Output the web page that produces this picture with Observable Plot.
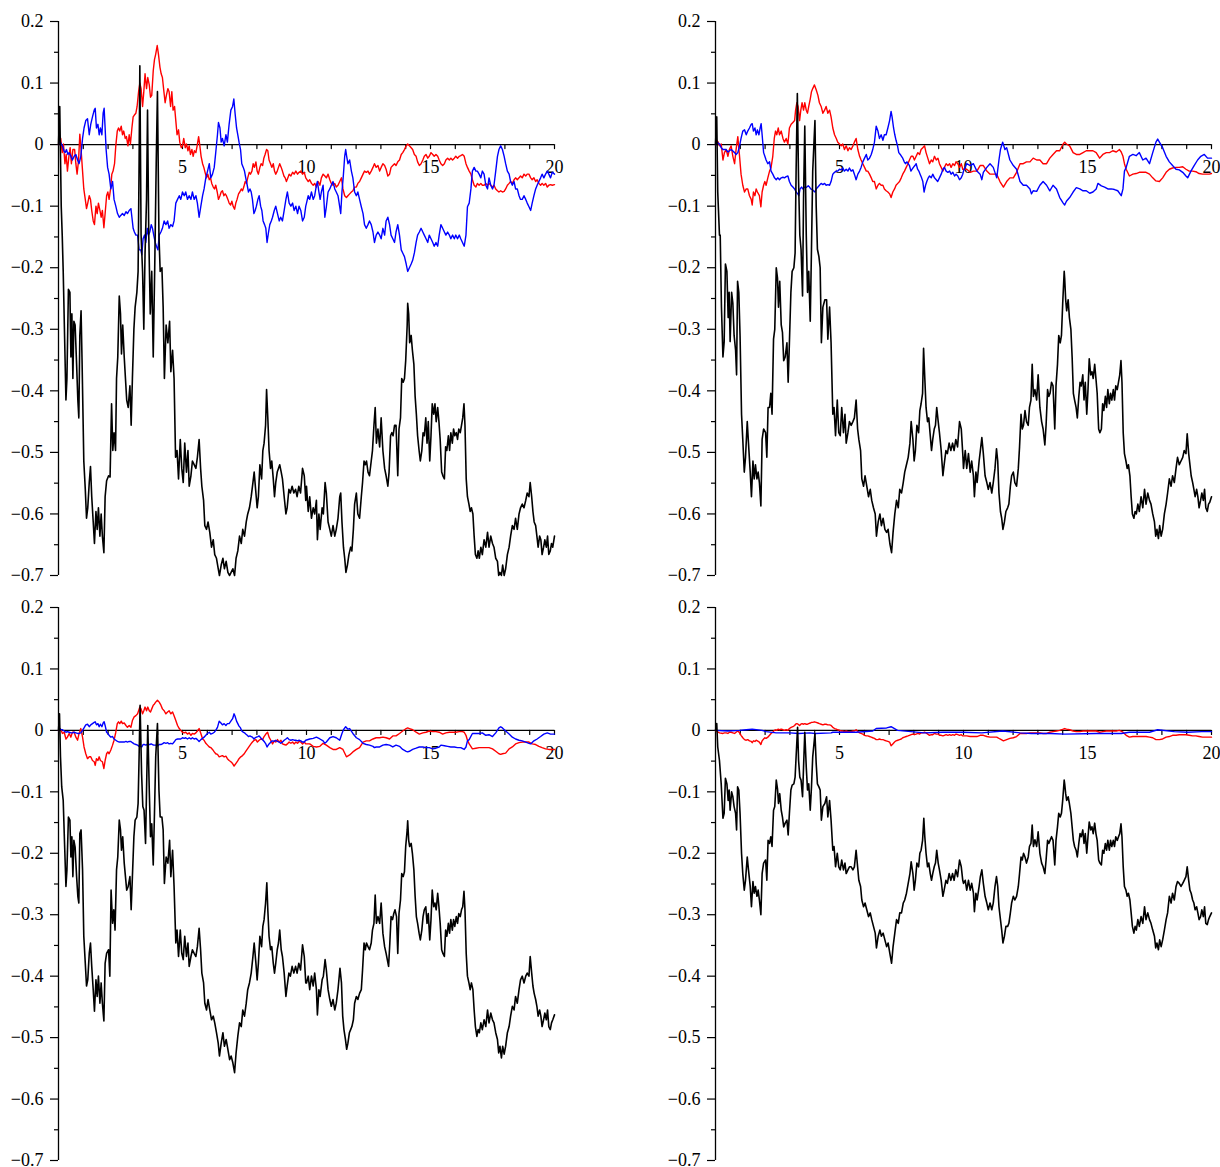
<!DOCTYPE html>
<html><head><meta charset="utf-8">
<script src="https://cdn.jsdelivr.net/npm/d3@7"></script>
<script src="https://cdn.jsdelivr.net/npm/@observablehq/plot@0.6"></script>
<style>
body{margin:0;background:#fff;}
#wrap{position:relative;width:1220px;height:1167px;overflow:hidden;}
#wrap svg{position:absolute;}
</style></head><body><div id="wrap"></div>
<script>
const xLabelTicks = [5, 10, 15, 20];
const xMinorTicks = [1,2,3,4,5,6,7,8,9,10,11,12,13,14,15,16,17,18,19,20];
const yMajorTicks = [0.2, 0.1, 0, -0.1, -0.2, -0.3, -0.4, -0.5, -0.6, -0.7];
const yMinorTicks = [0.15, 0.05, -0.05, -0.15, -0.25, -0.35, -0.45, -0.55, -0.65];

// ---------- top-left panel ----------
const tlBlack = [[0,0],[0.05,0.062],[0.11,-0.10],[0.15,-0.147],[0.19,-0.206],[0.30,-0.415],[0.34,-0.38],[0.40,-0.235],[0.46,-0.24],[0.50,-0.345],[0.54,-0.275],[0.58,-0.38],[0.62,-0.287],[0.67,-0.293],[0.73,-0.357],[0.78,-0.415],[0.82,-0.444],[0.86,-0.31],[0.91,-0.27],[0.95,-0.351],[1.02,-0.514],[1.08,-0.56],[1.13,-0.607],[1.18,-0.59],[1.24,-0.549],[1.29,-0.523],[1.34,-0.572],[1.40,-0.613],[1.45,-0.648],[1.51,-0.596],[1.56,-0.625],[1.61,-0.59],[1.67,-0.636],[1.72,-0.60],[1.77,-0.636],[1.83,-0.663],[1.88,-0.572],[1.94,-0.546],[2.02,-0.538],[2.08,-0.54],[2.14,-0.421],[2.19,-0.497],[2.24,-0.468],[2.30,-0.497],[2.34,-0.38],[2.39,-0.345],[2.45,-0.246],[2.50,-0.275],[2.54,-0.34],[2.59,-0.293],[2.65,-0.345],[2.70,-0.38],[2.75,-0.415],[2.81,-0.427],[2.88,-0.392],[2.93,-0.456],[2.98,-0.38],[3.04,-0.30],[3.09,-0.264],[3.16,-0.24],[3.21,-0.206],[3.25,-0.03],[3.28,0.128],[3.33,-0.147],[3.39,-0.206],[3.44,-0.30],[3.49,-0.176],[3.55,-0.089],[3.59,0.056],[3.64,-0.147],[3.70,-0.275],[3.76,-0.206],[3.82,-0.345],[3.88,-0.20],[3.94,-0.031],[3.99,0.086],[4.05,-0.147],[4.10,-0.206],[4.17,-0.20],[4.22,-0.264],[4.27,-0.38],[4.34,-0.293],[4.41,-0.322],[4.48,-0.287],[4.53,-0.369],[4.60,-0.334],[4.66,-0.38],[4.72,-0.508],[4.78,-0.497],[4.84,-0.543],[4.91,-0.479],[4.97,-0.526],[5.03,-0.549],[5.09,-0.485],[5.16,-0.532],[5.22,-0.497],[5.27,-0.555],[5.34,-0.538],[5.40,-0.514],[5.47,-0.52],[5.54,-0.526],[5.60,-0.508],[5.67,-0.479],[5.73,-0.526],[5.78,-0.555],[5.85,-0.578],[5.90,-0.619],[5.97,-0.625],[6.03,-0.613],[6.10,-0.63],[6.17,-0.654],[6.24,-0.642],[6.30,-0.666],[6.37,-0.672],[6.44,-0.689],[6.49,-0.70],[6.56,-0.683],[6.63,-0.672],[6.69,-0.689],[6.76,-0.677],[6.83,-0.695],[6.90,-0.70],[6.96,-0.695],[7.03,-0.689],[7.10,-0.70],[7.16,-0.672],[7.23,-0.66],[7.30,-0.636],[7.37,-0.648],[7.43,-0.625],[7.50,-0.636],[7.57,-0.613],[7.63,-0.60],[7.70,-0.59],[7.77,-0.572],[7.84,-0.549],[7.89,-0.532],[7.96,-0.566],[8.01,-0.59],[8.06,-0.572],[8.12,-0.52],[8.19,-0.543],[8.24,-0.497],[8.29,-0.485],[8.35,-0.456],[8.39,-0.398],[8.44,-0.444],[8.49,-0.497],[8.55,-0.526],[8.60,-0.514],[8.66,-0.543],[8.71,-0.572],[8.76,-0.549],[8.82,-0.532],[8.87,-0.526],[8.92,-0.52],[8.98,-0.532],[9.03,-0.543],[9.10,-0.572],[9.17,-0.60],[9.22,-0.59],[9.29,-0.56],[9.35,-0.566],[9.42,-0.555],[9.49,-0.566],[9.56,-0.56],[9.62,-0.572],[9.69,-0.555],[9.76,-0.566],[9.84,-0.526],[9.91,-0.538],[9.97,-0.578],[10.0,-0.555],[10.07,-0.596],[10.13,-0.572],[10.20,-0.607],[10.27,-0.59],[10.33,-0.60],[10.40,-0.578],[10.44,-0.642],[10.50,-0.60],[10.55,-0.625],[10.63,-0.59],[10.68,-0.60],[10.75,-0.549],[10.80,-0.566],[10.87,-0.613],[10.94,-0.625],[11.00,-0.636],[11.07,-0.619],[11.14,-0.636],[11.20,-0.625],[11.27,-0.607],[11.34,-0.572],[11.38,-0.566],[11.43,-0.613],[11.49,-0.654],[11.54,-0.672],[11.59,-0.695],[11.65,-0.683],[11.71,-0.666],[11.78,-0.654],[11.83,-0.66],[11.89,-0.625],[11.94,-0.584],[12.01,-0.566],[12.07,-0.60],[12.14,-0.607],[12.21,-0.572],[12.26,-0.549],[12.32,-0.514],[12.37,-0.52],[12.42,-0.514],[12.48,-0.532],[12.54,-0.538],[12.61,-0.514],[12.66,-0.497],[12.72,-0.456],[12.77,-0.427],[12.82,-0.485],[12.88,-0.462],[12.95,-0.491],[13.01,-0.444],[13.08,-0.497],[13.15,-0.526],[13.21,-0.538],[13.28,-0.555],[13.33,-0.532],[13.39,-0.473],[13.44,-0.468],[13.49,-0.473],[13.55,-0.456],[13.61,-0.456],[13.68,-0.538],[13.73,-0.462],[13.79,-0.444],[13.84,-0.38],[13.90,-0.386],[13.95,-0.38],[14.00,-0.351],[14.06,-0.293],[14.08,-0.258],[14.12,-0.275],[14.16,-0.322],[14.22,-0.31],[14.27,-0.334],[14.33,-0.357],[14.38,-0.409],[14.43,-0.438],[14.48,-0.473],[14.54,-0.497],[14.59,-0.514],[14.65,-0.497],[14.70,-0.468],[14.75,-0.473],[14.81,-0.444],[14.86,-0.485],[14.91,-0.45],[14.97,-0.514],[15.02,-0.473],[15.07,-0.421],[15.13,-0.438],[15.18,-0.421],[15.23,-0.45],[15.29,-0.427],[15.34,-0.45],[15.39,-0.479],[15.45,-0.532],[15.50,-0.538],[15.56,-0.543],[15.61,-0.491],[15.66,-0.497],[15.72,-0.473],[15.77,-0.497],[15.82,-0.468],[15.88,-0.485],[15.93,-0.462],[15.98,-0.473],[16.04,-0.468],[16.09,-0.479],[16.14,-0.462],[16.20,-0.468],[16.25,-0.456],[16.30,-0.444],[16.35,-0.421],[16.39,-0.456],[16.44,-0.543],[16.49,-0.572],[16.55,-0.584],[16.60,-0.596],[16.65,-0.59],[16.71,-0.60],[16.76,-0.636],[16.81,-0.666],[16.87,-0.672],[16.92,-0.66],[16.97,-0.672],[17.03,-0.654],[17.09,-0.666],[17.16,-0.642],[17.23,-0.654],[17.30,-0.63],[17.36,-0.654],[17.43,-0.636],[17.50,-0.648],[17.56,-0.654],[17.63,-0.672],[17.70,-0.677],[17.75,-0.70],[17.80,-0.695],[17.86,-0.70],[17.91,-0.683],[17.97,-0.70],[18.03,-0.689],[18.10,-0.666],[18.17,-0.654],[18.23,-0.636],[18.30,-0.619],[18.37,-0.625],[18.43,-0.607],[18.50,-0.625],[18.57,-0.60],[18.63,-0.59],[18.70,-0.584],[18.77,-0.59],[18.84,-0.578],[18.90,-0.566],[18.97,-0.572],[19.02,-0.549],[19.08,-0.572],[19.13,-0.596],[19.18,-0.613],[19.24,-0.619],[19.29,-0.636],[19.34,-0.654],[19.40,-0.636],[19.45,-0.642],[19.50,-0.666],[19.56,-0.654],[19.61,-0.642],[19.67,-0.654],[19.72,-0.636],[19.77,-0.666],[19.83,-0.66],[19.88,-0.648],[19.93,-0.654],[20.0,-0.636]];

const tlRed = [[0,0],[0.04,0.013],[0.09,0.01],[0.15,-0.013],[0.2,0.001],[0.26,-0.031],[0.31,-0.016],[0.36,-0.043],[0.42,-0.019],[0.47,-0.005],[0.52,-0.031],[0.58,-0.008],[0.65,-0.008],[0.7,-0.031],[0.75,-0.048],[0.81,-0.025],[0.86,0.017],[0.91,-0.008],[0.97,-0.043],[1.02,-0.072],[1.08,-0.089],[1.13,-0.104],[1.18,-0.095],[1.24,-0.083],[1.29,-0.089],[1.34,-0.107],[1.4,-0.124],[1.45,-0.13],[1.51,-0.1],[1.56,-0.112],[1.61,-0.095],[1.67,-0.107],[1.72,-0.118],[1.77,-0.107],[1.83,-0.135],[1.88,-0.112],[1.94,-0.083],[1.99,-0.077],[2.04,-0.089],[2.1,-0.072],[2.15,-0.048],[2.2,-0.043],[2.26,-0.031],[2.31,-0.002],[2.37,0.022],[2.42,0.027],[2.47,0.022],[2.53,0.03],[2.58,0.016],[2.63,0.022],[2.69,0.01],[2.74,0.013],[2.8,-0.002],[2.85,0.016],[2.9,0.001],[2.96,0.027],[3.01,0.045],[3.06,0.048],[3.12,0.051],[3.17,0.062],[3.23,0.086],[3.28,0.1],[3.33,0.091],[3.39,0.062],[3.44,0.086],[3.49,0.115],[3.55,0.091],[3.6,0.109],[3.66,0.097],[3.71,0.077],[3.76,0.08],[3.82,0.12],[3.87,0.138],[3.92,0.147],[3.98,0.161],[4.03,0.147],[4.09,0.126],[4.14,0.115],[4.19,0.109],[4.25,0.086],[4.3,0.068],[4.35,0.08],[4.41,0.091],[4.46,0.086],[4.52,0.062],[4.57,0.086],[4.62,0.056],[4.68,0.062],[4.73,0.039],[4.78,0.016],[4.84,0.024],[4.89,0.004],[4.95,-0.005],[5.0,-0.002],[5.05,0.01],[5.11,-0.005],[5.16,0.001],[5.22,-0.01],[5.27,-0.002],[5.32,-0.016],[5.38,-0.008],[5.43,-0.019],[5.48,-0.01],[5.54,-0.013],[5.59,-0.002],[5.65,0.013],[5.7,-0.002],[5.75,-0.019],[5.81,-0.031],[5.86,-0.037],[5.91,-0.045],[5.97,-0.054],[6.02,-0.048],[6.08,-0.057],[6.13,-0.054],[6.18,-0.063],[6.24,-0.069],[6.29,-0.072],[6.34,-0.066],[6.4,-0.077],[6.45,-0.089],[6.51,-0.083],[6.56,-0.077],[6.61,-0.075],[6.67,-0.083],[6.72,-0.08],[6.77,-0.083],[6.83,-0.089],[6.88,-0.095],[6.94,-0.098],[6.99,-0.092],[7.04,-0.1],[7.1,-0.105],[7.15,-0.095],[7.2,-0.089],[7.26,-0.08],[7.31,-0.077],[7.37,-0.072],[7.42,-0.075],[7.47,-0.069],[7.53,-0.06],[7.58,-0.063],[7.63,-0.054],[7.69,-0.045],[7.74,-0.048],[7.8,-0.043],[7.85,-0.031],[7.9,-0.037],[7.96,-0.028],[8.01,-0.043],[8.06,-0.048],[8.12,-0.037],[8.17,-0.031],[8.23,-0.034],[8.28,-0.022],[8.33,-0.016],[8.39,-0.008],[8.44,-0.01],[8.49,-0.025],[8.55,-0.031],[8.6,-0.037],[8.66,-0.031],[8.71,-0.043],[8.76,-0.048],[8.82,-0.043],[8.87,-0.037],[8.92,-0.031],[8.98,-0.037],[9.03,-0.043],[9.09,-0.051],[9.14,-0.054],[9.19,-0.06],[9.25,-0.054],[9.3,-0.048],[9.37,-0.051],[9.44,-0.045],[9.5,-0.048],[9.57,-0.043],[9.64,-0.048],[9.7,-0.045],[9.77,-0.043],[9.84,-0.048],[9.91,-0.045],[9.97,-0.054],[10.07,-0.06],[10.13,-0.057],[10.2,-0.063],[10.27,-0.066],[10.33,-0.063],[10.4,-0.069],[10.47,-0.06],[10.54,-0.066],[10.6,-0.054],[10.67,-0.048],[10.74,-0.051],[10.8,-0.054],[10.87,-0.048],[10.94,-0.057],[11.0,-0.063],[11.07,-0.066],[11.14,-0.063],[11.2,-0.069],[11.27,-0.066],[11.34,-0.06],[11.41,-0.054],[11.47,-0.072],[11.54,-0.083],[11.61,-0.086],[11.67,-0.083],[11.74,-0.08],[11.81,-0.077],[11.87,-0.075],[11.94,-0.069],[12.01,-0.069],[12.07,-0.063],[12.14,-0.06],[12.21,-0.054],[12.28,-0.048],[12.34,-0.043],[12.41,-0.045],[12.48,-0.043],[12.54,-0.048],[12.61,-0.043],[12.68,-0.037],[12.74,-0.031],[12.81,-0.037],[12.88,-0.034],[12.95,-0.043],[13.01,-0.037],[13.08,-0.031],[13.15,-0.034],[13.21,-0.04],[13.28,-0.051],[13.35,-0.048],[13.41,-0.037],[13.48,-0.034],[13.55,-0.031],[13.61,-0.034],[13.68,-0.028],[13.75,-0.025],[13.82,-0.016],[13.88,-0.013],[13.95,-0.008],[14.02,-0.002],[14.08,0.001],[14.15,-0.002],[14.22,-0.005],[14.28,-0.008],[14.35,-0.016],[14.42,-0.019],[14.48,-0.028],[14.55,-0.034],[14.62,-0.031],[14.69,-0.025],[14.75,-0.019],[14.82,-0.016],[14.89,-0.022],[14.95,-0.019],[15.02,-0.013],[15.09,-0.016],[15.15,-0.019],[15.22,-0.016],[15.29,-0.019],[15.35,-0.025],[15.42,-0.031],[15.49,-0.034],[15.56,-0.031],[15.62,-0.025],[15.69,-0.022],[15.76,-0.025],[15.82,-0.022],[15.89,-0.025],[15.96,-0.022],[16.02,-0.019],[16.09,-0.022],[16.16,-0.019],[16.22,-0.018],[16.29,-0.016],[16.36,-0.019],[16.43,-0.031],[16.49,-0.037],[16.56,-0.043],[16.63,-0.048],[16.69,-0.057],[16.76,-0.066],[16.83,-0.069],[16.89,-0.063],[16.96,-0.066],[17.03,-0.063],[17.09,-0.066],[17.16,-0.066],[17.23,-0.063],[17.3,-0.066],[17.36,-0.063],[17.43,-0.066],[17.5,-0.069],[17.56,-0.066],[17.63,-0.072],[17.7,-0.075],[17.76,-0.077],[17.83,-0.075],[17.9,-0.077],[17.97,-0.076],[18.03,-0.072],[18.1,-0.066],[18.17,-0.063],[18.23,-0.06],[18.3,-0.063],[18.37,-0.057],[18.43,-0.054],[18.5,-0.057],[18.57,-0.054],[18.63,-0.051],[18.7,-0.054],[18.77,-0.048],[18.84,-0.051],[18.9,-0.048],[18.97,-0.048],[19.04,-0.054],[19.1,-0.057],[19.17,-0.054],[19.24,-0.06],[19.3,-0.057],[19.37,-0.063],[19.44,-0.066],[19.5,-0.063],[19.57,-0.066],[19.64,-0.063],[19.71,-0.069],[19.77,-0.066],[19.84,-0.065],[19.91,-0.066],[20,-0.065]];

const tlBlue = [[0,0],[0.05,0.007],[0.11,0.001],[0.16,-0.002],[0.22,-0.01],[0.27,-0.013],[0.32,-0.008],[0.38,-0.016],[0.43,-0.013],[0.5,-0.019],[0.56,-0.025],[0.63,-0.019],[0.7,-0.016],[0.77,-0.025],[0.83,-0.031],[0.9,-0.019],[0.97,0.01],[1.03,0.027],[1.1,0.039],[1.17,0.042],[1.24,0.016],[1.3,0.033],[1.37,0.045],[1.44,0.056],[1.48,0.059],[1.53,0.027],[1.59,0.033],[1.64,0.016],[1.69,0.027],[1.75,0.016],[1.8,0.051],[1.84,0.059],[1.88,0.027],[1.92,-0.008],[1.98,-0.037],[2.04,-0.048],[2.11,-0.072],[2.18,-0.06],[2.24,-0.089],[2.31,-0.1],[2.38,-0.112],[2.45,-0.118],[2.51,-0.115],[2.58,-0.112],[2.65,-0.115],[2.72,-0.109],[2.78,-0.112],[2.85,-0.107],[2.92,-0.104],[2.96,-0.118],[3.01,-0.136],[3.06,-0.142],[3.12,-0.147],[3.19,-0.147],[3.25,-0.171],[3.32,-0.171],[3.36,-0.179],[3.41,-0.153],[3.47,-0.147],[3.52,-0.159],[3.58,-0.136],[3.63,-0.147],[3.68,-0.142],[3.74,-0.13],[3.79,-0.136],[3.84,-0.147],[3.9,-0.159],[3.95,-0.165],[4.01,-0.171],[4.06,-0.147],[4.13,-0.142],[4.19,-0.136],[4.26,-0.124],[4.33,-0.13],[4.4,-0.124],[4.46,-0.136],[4.53,-0.13],[4.6,-0.133],[4.66,-0.124],[4.73,-0.095],[4.8,-0.089],[4.87,-0.083],[4.93,-0.089],[5.0,-0.077],[5.07,-0.083],[5.13,-0.077],[5.2,-0.089],[5.27,-0.083],[5.34,-0.089],[5.4,-0.077],[5.47,-0.089],[5.54,-0.083],[5.6,-0.095],[5.67,-0.118],[5.74,-0.1],[5.81,-0.083],[5.87,-0.072],[5.94,-0.054],[6.01,-0.043],[6.08,-0.031],[6.14,-0.054],[6.21,-0.048],[6.28,-0.037],[6.34,-0.013],[6.41,0.016],[6.45,0.036],[6.51,0.027],[6.56,0.004],[6.61,0.01],[6.68,-0.002],[6.75,0.016],[6.81,0.004],[6.88,0.033],[6.95,0.056],[7.02,0.062],[7.07,0.074],[7.12,0.051],[7.18,0.027],[7.23,0.016],[7.28,0.004],[7.34,-0.008],[7.39,-0.031],[7.45,-0.037],[7.5,-0.043],[7.55,-0.054],[7.61,-0.066],[7.66,-0.077],[7.72,-0.072],[7.77,-0.077],[7.82,-0.089],[7.88,-0.112],[7.93,-0.107],[7.98,-0.1],[8.04,-0.089],[8.09,-0.083],[8.15,-0.1],[8.2,-0.107],[8.25,-0.124],[8.31,-0.13],[8.36,-0.136],[8.41,-0.159],[8.47,-0.142],[8.52,-0.13],[8.58,-0.124],[8.63,-0.118],[8.7,-0.107],[8.76,-0.1],[8.83,-0.112],[8.9,-0.124],[8.96,-0.118],[9.03,-0.124],[9.1,-0.107],[9.17,-0.089],[9.23,-0.077],[9.3,-0.095],[9.37,-0.1],[9.44,-0.095],[9.5,-0.107],[9.57,-0.1],[9.64,-0.112],[9.7,-0.1],[9.77,-0.107],[9.84,-0.124],[9.91,-0.118],[9.97,-0.1],[10.0,-0.095],[10.07,-0.083],[10.13,-0.089],[10.2,-0.077],[10.27,-0.089],[10.33,-0.083],[10.4,-0.066],[10.44,-0.06],[10.5,-0.077],[10.55,-0.089],[10.6,-0.077],[10.67,-0.066],[10.74,-0.118],[10.8,-0.101],[10.87,-0.077],[10.94,-0.072],[11.0,-0.066],[11.07,-0.06],[11.14,-0.072],[11.2,-0.077],[11.27,-0.083],[11.34,-0.101],[11.38,-0.112],[11.43,-0.077],[11.49,-0.048],[11.54,-0.019],[11.58,-0.008],[11.62,-0.019],[11.67,-0.031],[11.74,-0.025],[11.81,-0.043],[11.87,-0.054],[11.94,-0.077],[12.01,-0.083],[12.07,-0.077],[12.14,-0.089],[12.21,-0.101],[12.28,-0.112],[12.34,-0.13],[12.41,-0.136],[12.48,-0.13],[12.54,-0.124],[12.61,-0.13],[12.68,-0.142],[12.74,-0.159],[12.81,-0.147],[12.88,-0.142],[12.95,-0.147],[13.01,-0.153],[13.08,-0.136],[13.15,-0.147],[13.21,-0.124],[13.28,-0.118],[13.35,-0.13],[13.41,-0.147],[13.48,-0.153],[13.55,-0.159],[13.61,-0.142],[13.68,-0.13],[13.75,-0.147],[13.82,-0.171],[13.88,-0.176],[13.95,-0.182],[14.02,-0.194],[14.08,-0.206],[14.15,-0.2],[14.22,-0.194],[14.28,-0.188],[14.35,-0.176],[14.42,-0.159],[14.48,-0.147],[14.55,-0.142],[14.62,-0.136],[14.69,-0.142],[14.75,-0.147],[14.82,-0.153],[14.89,-0.159],[14.95,-0.147],[15.02,-0.153],[15.09,-0.159],[15.15,-0.165],[15.22,-0.159],[15.29,-0.165],[15.35,-0.147],[15.42,-0.13],[15.49,-0.136],[15.56,-0.142],[15.62,-0.147],[15.69,-0.142],[15.76,-0.147],[15.82,-0.153],[15.89,-0.147],[15.96,-0.153],[16.02,-0.147],[16.09,-0.153],[16.16,-0.147],[16.22,-0.153],[16.29,-0.159],[16.36,-0.165],[16.43,-0.147],[16.49,-0.101],[16.56,-0.095],[16.63,-0.072],[16.69,-0.043],[16.76,-0.037],[16.83,-0.043],[16.89,-0.043],[16.96,-0.048],[17.03,-0.054],[17.09,-0.043],[17.16,-0.048],[17.23,-0.066],[17.3,-0.072],[17.36,-0.054],[17.43,-0.066],[17.5,-0.072],[17.56,-0.066],[17.63,-0.043],[17.7,-0.019],[17.76,-0.008],[17.83,-0.002],[17.9,-0.008],[17.97,-0.019],[18.03,-0.031],[18.1,-0.043],[18.17,-0.048],[18.23,-0.06],[18.3,-0.066],[18.37,-0.06],[18.43,-0.072],[18.5,-0.072],[18.57,-0.083],[18.63,-0.089],[18.7,-0.089],[18.77,-0.083],[18.84,-0.089],[18.9,-0.095],[18.97,-0.101],[19.04,-0.107],[19.1,-0.095],[19.17,-0.083],[19.24,-0.072],[19.3,-0.066],[19.37,-0.06],[19.44,-0.054],[19.5,-0.048],[19.57,-0.054],[19.64,-0.048],[19.71,-0.043],[19.77,-0.048],[19.84,-0.054],[19.91,-0.045],[20,-0.048]];

// ---------- top-right panel ----------
const trBlack = [[0,0],[0.05,0.045],[0.09,-0.077],[0.16,-0.147],[0.19,-0.147],[0.24,-0.264],[0.30,-0.345],[0.35,-0.32],[0.40,-0.194],[0.46,-0.206],[0.51,-0.281],[0.55,-0.24],[0.59,-0.32],[0.65,-0.24],[0.70,-0.258],[0.75,-0.31],[0.81,-0.334],[0.85,-0.374],[0.89,-0.222],[0.94,-0.24],[0.99,-0.31],[1.05,-0.438],[1.10,-0.479],[1.16,-0.532],[1.21,-0.508],[1.28,-0.45],[1.33,-0.485],[1.40,-0.532],[1.45,-0.572],[1.51,-0.514],[1.56,-0.543],[1.61,-0.52],[1.67,-0.543],[1.72,-0.532],[1.77,-0.549],[1.83,-0.587],[1.88,-0.479],[1.94,-0.462],[2.02,-0.468],[2.07,-0.508],[2.12,-0.427],[2.18,-0.427],[2.23,-0.404],[2.28,-0.438],[2.34,-0.316],[2.39,-0.30],[2.45,-0.20],[2.50,-0.217],[2.54,-0.264],[2.59,-0.222],[2.65,-0.293],[2.70,-0.305],[2.75,-0.351],[2.81,-0.345],[2.88,-0.322],[2.93,-0.386],[2.98,-0.322],[3.04,-0.24],[3.09,-0.206],[3.16,-0.20],[3.21,-0.176],[3.25,-0.044],[3.30,0.083],[3.35,-0.06],[3.40,-0.147],[3.45,-0.17],[3.51,-0.246],[3.55,-0.089],[3.60,0.03],[3.66,-0.147],[3.71,-0.24],[3.76,-0.206],[3.82,-0.287],[3.87,-0.17],[3.92,-0.043],[4.01,0.039],[4.06,-0.10],[4.11,-0.17],[4.17,-0.182],[4.22,-0.20],[4.27,-0.322],[4.33,-0.264],[4.41,-0.252],[4.48,-0.252],[4.53,-0.316],[4.60,-0.264],[4.66,-0.322],[4.73,-0.438],[4.78,-0.427],[4.84,-0.473],[4.91,-0.415],[4.97,-0.468],[5.03,-0.473],[5.09,-0.427],[5.16,-0.468],[5.22,-0.438],[5.27,-0.485],[5.34,-0.468],[5.40,-0.45],[5.47,-0.456],[5.54,-0.45],[5.60,-0.444],[5.67,-0.415],[5.73,-0.462],[5.78,-0.479],[5.85,-0.497],[5.90,-0.543],[5.97,-0.555],[6.03,-0.538],[6.10,-0.555],[6.17,-0.572],[6.24,-0.56],[6.30,-0.578],[6.37,-0.59],[6.44,-0.60],[6.49,-0.636],[6.56,-0.613],[6.63,-0.60],[6.69,-0.619],[6.76,-0.607],[6.83,-0.625],[6.90,-0.63],[6.96,-0.625],[7.03,-0.648],[7.10,-0.663],[7.16,-0.63],[7.23,-0.60],[7.30,-0.578],[7.37,-0.59],[7.43,-0.56],[7.50,-0.566],[7.57,-0.549],[7.63,-0.532],[7.70,-0.52],[7.77,-0.508],[7.84,-0.485],[7.89,-0.45],[7.96,-0.479],[8.01,-0.514],[8.06,-0.497],[8.12,-0.456],[8.19,-0.468],[8.24,-0.432],[8.29,-0.421],[8.35,-0.404],[8.39,-0.331],[8.44,-0.38],[8.49,-0.427],[8.55,-0.45],[8.60,-0.444],[8.66,-0.473],[8.71,-0.497],[8.76,-0.479],[8.82,-0.462],[8.87,-0.456],[8.92,-0.427],[8.98,-0.45],[9.03,-0.468],[9.10,-0.497],[9.17,-0.538],[9.22,-0.52],[9.29,-0.497],[9.35,-0.502],[9.42,-0.485],[9.49,-0.497],[9.56,-0.485],[9.62,-0.497],[9.69,-0.479],[9.76,-0.491],[9.84,-0.45],[9.91,-0.462],[9.97,-0.502],[10.0,-0.526],[10.07,-0.497],[10.13,-0.526],[10.20,-0.502],[10.27,-0.532],[10.33,-0.514],[10.40,-0.538],[10.44,-0.572],[10.50,-0.532],[10.55,-0.549],[10.63,-0.514],[10.68,-0.497],[10.74,-0.476],[10.80,-0.502],[10.87,-0.538],[10.94,-0.549],[11.00,-0.56],[11.07,-0.549],[11.14,-0.566],[11.20,-0.549],[11.27,-0.526],[11.33,-0.494],[11.38,-0.514],[11.43,-0.566],[11.49,-0.596],[11.54,-0.607],[11.59,-0.625],[11.65,-0.613],[11.71,-0.596],[11.78,-0.59],[11.83,-0.584],[11.89,-0.555],[11.94,-0.538],[12.01,-0.532],[12.07,-0.549],[12.14,-0.555],[12.21,-0.526],[12.26,-0.491],[12.32,-0.438],[12.37,-0.462],[12.42,-0.456],[12.48,-0.432],[12.54,-0.45],[12.61,-0.456],[12.66,-0.427],[12.72,-0.415],[12.77,-0.357],[12.82,-0.409],[12.88,-0.398],[12.95,-0.415],[13.01,-0.374],[13.08,-0.427],[13.15,-0.45],[13.21,-0.462],[13.28,-0.488],[13.33,-0.456],[13.39,-0.398],[13.44,-0.409],[13.49,-0.404],[13.55,-0.386],[13.61,-0.392],[13.68,-0.462],[13.73,-0.392],[13.79,-0.357],[13.84,-0.31],[13.90,-0.322],[13.95,-0.31],[14.00,-0.258],[14.06,-0.206],[14.08,-0.217],[14.12,-0.252],[14.16,-0.27],[14.22,-0.252],[14.27,-0.281],[14.33,-0.30],[14.38,-0.345],[14.43,-0.404],[14.48,-0.415],[14.54,-0.427],[14.59,-0.444],[14.65,-0.409],[14.70,-0.386],[14.75,-0.392],[14.81,-0.374],[14.86,-0.415],[14.91,-0.386],[14.97,-0.438],[15.02,-0.398],[15.07,-0.348],[15.13,-0.374],[15.18,-0.369],[15.23,-0.38],[15.29,-0.357],[15.34,-0.38],[15.39,-0.404],[15.45,-0.462],[15.50,-0.468],[15.56,-0.462],[15.61,-0.421],[15.66,-0.432],[15.72,-0.409],[15.77,-0.427],[15.82,-0.398],[15.88,-0.421],[15.93,-0.404],[15.98,-0.415],[16.04,-0.398],[16.09,-0.415],[16.14,-0.392],[16.20,-0.398],[16.25,-0.386],[16.30,-0.374],[16.35,-0.351],[16.39,-0.386],[16.44,-0.468],[16.49,-0.502],[16.55,-0.514],[16.60,-0.526],[16.65,-0.52],[16.71,-0.538],[16.76,-0.572],[16.81,-0.60],[16.87,-0.607],[16.92,-0.596],[16.97,-0.60],[17.03,-0.584],[17.09,-0.596],[17.16,-0.572],[17.23,-0.59],[17.30,-0.56],[17.36,-0.584],[17.43,-0.566],[17.50,-0.578],[17.56,-0.584],[17.63,-0.60],[17.70,-0.613],[17.75,-0.636],[17.80,-0.625],[17.86,-0.64],[17.91,-0.619],[17.97,-0.636],[18.03,-0.625],[18.10,-0.60],[18.17,-0.584],[18.23,-0.566],[18.30,-0.543],[18.37,-0.555],[18.43,-0.538],[18.50,-0.549],[18.57,-0.526],[18.63,-0.508],[18.70,-0.52],[18.77,-0.514],[18.84,-0.508],[18.90,-0.497],[18.97,-0.502],[19.02,-0.47],[19.08,-0.502],[19.13,-0.52],[19.18,-0.538],[19.24,-0.549],[19.29,-0.56],[19.34,-0.572],[19.40,-0.56],[19.45,-0.572],[19.50,-0.59],[19.56,-0.578],[19.61,-0.566],[19.67,-0.578],[19.72,-0.56],[19.77,-0.59],[19.83,-0.596],[19.88,-0.584],[19.93,-0.581],[20.0,-0.572]];

const trRed = [[0,0],[0.05,0.007],[0.11,0.004],[0.16,-0.002],[0.23,0.001],[0.3,-0.025],[0.36,-0.013],[0.43,-0.008],[0.5,-0.019],[0.56,-0.008],[0.63,-0.002],[0.7,-0.019],[0.77,-0.031],[0.83,-0.008],[0.9,0.013],[0.97,-0.019],[1.03,-0.048],[1.1,-0.066],[1.17,-0.077],[1.24,-0.072],[1.3,-0.072],[1.37,-0.083],[1.44,-0.089],[1.48,-0.098],[1.53,-0.077],[1.59,-0.083],[1.64,-0.072],[1.69,-0.077],[1.77,-0.083],[1.83,-0.101],[1.88,-0.077],[1.94,-0.066],[1.99,-0.06],[2.04,-0.066],[2.11,-0.054],[2.18,-0.043],[2.24,-0.037],[2.31,-0.019],[2.37,0.01],[2.42,0.022],[2.47,0.016],[2.53,0.027],[2.58,0.016],[2.65,0.022],[2.72,0.01],[2.78,0.004],[2.85,0.01],[2.92,0.001],[2.98,0.027],[3.05,0.033],[3.12,0.036],[3.19,0.039],[3.23,0.056],[3.28,0.068],[3.33,0.062],[3.39,0.039],[3.44,0.056],[3.49,0.068],[3.55,0.056],[3.6,0.068],[3.66,0.056],[3.71,0.051],[3.76,0.062],[3.82,0.074],[3.87,0.086],[3.92,0.091],[3.99,0.097],[4.06,0.089],[4.13,0.08],[4.19,0.068],[4.26,0.062],[4.33,0.051],[4.4,0.056],[4.46,0.062],[4.53,0.051],[4.6,0.056],[4.66,0.045],[4.73,0.027],[4.8,0.016],[4.87,0.01],[4.93,0.004],[5.0,0.001],[5.07,-0.002],[5.13,0.001],[5.2,-0.008],[5.27,-0.002],[5.34,-0.01],[5.4,-0.005],[5.47,-0.008],[5.54,-0.002],[5.6,0.004],[5.67,0.01],[5.74,-0.008],[5.81,-0.019],[5.87,-0.025],[5.94,-0.031],[6.01,-0.037],[6.08,-0.043],[6.14,-0.043],[6.21,-0.048],[6.28,-0.054],[6.34,-0.06],[6.41,-0.06],[6.48,-0.072],[6.55,-0.066],[6.61,-0.063],[6.68,-0.066],[6.75,-0.066],[6.81,-0.072],[6.88,-0.075],[6.95,-0.077],[7.02,-0.08],[7.08,-0.086],[7.15,-0.077],[7.22,-0.072],[7.28,-0.066],[7.35,-0.063],[7.42,-0.06],[7.49,-0.054],[7.55,-0.048],[7.62,-0.043],[7.69,-0.037],[7.76,-0.031],[7.82,-0.025],[7.89,-0.019],[7.96,-0.019],[8.02,-0.025],[8.09,-0.019],[8.16,-0.013],[8.23,-0.016],[8.29,-0.008],[8.36,-0.005],[8.43,-0.002],[8.49,-0.013],[8.56,-0.022],[8.63,-0.031],[8.7,-0.025],[8.76,-0.028],[8.83,-0.019],[8.9,-0.025],[8.97,-0.022],[9.03,-0.031],[9.1,-0.037],[9.17,-0.043],[9.23,-0.037],[9.3,-0.031],[9.37,-0.034],[9.44,-0.031],[9.5,-0.037],[9.57,-0.031],[9.64,-0.034],[9.7,-0.028],[9.77,-0.031],[9.84,-0.037],[9.91,-0.031],[9.97,-0.04],[10.13,-0.04],[10.27,-0.045],[10.4,-0.043],[10.54,-0.043],[10.67,-0.034],[10.8,-0.034],[10.94,-0.043],[11.07,-0.048],[11.2,-0.048],[11.34,-0.048],[11.47,-0.06],[11.61,-0.069],[11.74,-0.06],[11.87,-0.054],[12.01,-0.054],[12.14,-0.045],[12.28,-0.031],[12.41,-0.031],[12.54,-0.028],[12.68,-0.028],[12.81,-0.022],[12.95,-0.025],[13.08,-0.025],[13.21,-0.031],[13.35,-0.031],[13.48,-0.022],[13.61,-0.016],[13.75,-0.01],[13.88,-0.01],[14.02,0.001],[14.08,0.004],[14.15,0.001],[14.28,-0.002],[14.42,-0.013],[14.55,-0.016],[14.69,-0.016],[14.82,-0.013],[14.95,-0.01],[15.09,-0.01],[15.22,-0.01],[15.35,-0.013],[15.49,-0.022],[15.62,-0.016],[15.76,-0.013],[15.89,-0.013],[16.02,-0.01],[16.16,-0.012],[16.29,-0.008],[16.36,-0.012],[16.43,-0.019],[16.49,-0.031],[16.56,-0.04],[16.69,-0.051],[16.83,-0.048],[16.96,-0.047],[17.09,-0.045],[17.23,-0.045],[17.36,-0.045],[17.5,-0.048],[17.63,-0.054],[17.76,-0.059],[17.9,-0.06],[18.03,-0.054],[18.17,-0.045],[18.3,-0.04],[18.43,-0.038],[18.57,-0.037],[18.7,-0.037],[18.84,-0.036],[18.97,-0.04],[19.1,-0.043],[19.24,-0.043],[19.37,-0.044],[19.5,-0.047],[19.64,-0.048],[19.77,-0.048],[19.91,-0.048],[20,-0.047]];

const trBlue = [[0,0],[0.05,0.004],[0.16,0.001],[0.23,-0.005],[0.3,-0.008],[0.43,-0.008],[0.5,-0.012],[0.63,-0.008],[0.77,-0.013],[0.83,-0.016],[0.9,-0.013],[0.97,-0.002],[1.03,0.01],[1.1,0.022],[1.17,0.024],[1.24,0.016],[1.3,0.022],[1.37,0.027],[1.44,0.033],[1.48,0.034],[1.53,0.022],[1.59,0.027],[1.64,0.016],[1.69,0.024],[1.75,0.016],[1.8,0.027],[1.84,0.034],[1.88,0.016],[1.94,-0.013],[1.99,-0.019],[2.04,-0.025],[2.11,-0.031],[2.18,-0.028],[2.24,-0.043],[2.31,-0.048],[2.38,-0.054],[2.45,-0.057],[2.51,-0.054],[2.58,-0.057],[2.65,-0.054],[2.72,-0.053],[2.78,-0.054],[2.85,-0.052],[2.92,-0.051],[2.98,-0.06],[3.05,-0.066],[3.12,-0.069],[3.19,-0.072],[3.25,-0.077],[3.32,-0.08],[3.36,-0.083],[3.41,-0.072],[3.47,-0.069],[3.52,-0.072],[3.58,-0.069],[3.63,-0.07],[3.68,-0.069],[3.74,-0.067],[3.79,-0.069],[3.84,-0.072],[3.9,-0.073],[3.95,-0.075],[4.01,-0.077],[4.06,-0.072],[4.13,-0.069],[4.19,-0.066],[4.26,-0.063],[4.33,-0.065],[4.4,-0.063],[4.46,-0.066],[4.53,-0.065],[4.6,-0.066],[4.66,-0.06],[4.73,-0.048],[4.8,-0.045],[4.87,-0.043],[4.93,-0.043],[5.0,-0.04],[5.07,-0.041],[5.13,-0.038],[5.2,-0.043],[5.27,-0.04],[5.34,-0.043],[5.4,-0.038],[5.47,-0.043],[5.54,-0.041],[5.6,-0.048],[5.67,-0.057],[5.74,-0.048],[5.81,-0.043],[5.87,-0.037],[5.94,-0.028],[6.01,-0.022],[6.08,-0.016],[6.14,-0.025],[6.21,-0.022],[6.28,-0.016],[6.34,-0.008],[6.41,0.004],[6.48,0.03],[6.55,0.022],[6.61,0.01],[6.68,0.016],[6.75,0.007],[6.81,0.016],[6.88,0.016],[6.95,0.027],[7.02,0.039],[7.08,0.054],[7.12,0.045],[7.18,0.027],[7.23,0.016],[7.28,0.007],[7.34,-0.002],[7.39,-0.013],[7.45,-0.016],[7.5,-0.019],[7.55,-0.022],[7.61,-0.028],[7.66,-0.031],[7.72,-0.028],[7.77,-0.031],[7.82,-0.034],[7.88,-0.043],[7.93,-0.04],[7.98,-0.037],[8.04,-0.034],[8.09,-0.031],[8.15,-0.04],[8.2,-0.043],[8.25,-0.048],[8.31,-0.054],[8.36,-0.06],[8.41,-0.077],[8.47,-0.066],[8.52,-0.06],[8.58,-0.054],[8.63,-0.051],[8.7,-0.054],[8.76,-0.048],[8.83,-0.054],[8.9,-0.057],[8.96,-0.06],[9.03,-0.054],[9.1,-0.048],[9.17,-0.04],[9.23,-0.037],[9.3,-0.043],[9.37,-0.045],[9.44,-0.043],[9.5,-0.048],[9.57,-0.045],[9.64,-0.051],[9.7,-0.048],[9.77,-0.051],[9.84,-0.057],[9.91,-0.054],[9.97,-0.048],[10.0,-0.043],[10.13,-0.031],[10.27,-0.034],[10.4,-0.031],[10.54,-0.043],[10.67,-0.048],[10.74,-0.057],[10.8,-0.045],[10.94,-0.037],[11.07,-0.031],[11.2,-0.037],[11.34,-0.054],[11.43,-0.025],[11.49,-0.008],[11.58,0.004],[11.67,-0.008],[11.74,-0.005],[11.87,-0.025],[12.01,-0.034],[12.14,-0.04],[12.28,-0.06],[12.41,-0.066],[12.54,-0.066],[12.68,-0.072],[12.74,-0.08],[12.81,-0.075],[12.95,-0.076],[13.08,-0.066],[13.21,-0.06],[13.35,-0.066],[13.48,-0.075],[13.61,-0.066],[13.75,-0.072],[13.88,-0.086],[14.02,-0.095],[14.08,-0.098],[14.15,-0.092],[14.28,-0.086],[14.42,-0.077],[14.55,-0.07],[14.69,-0.072],[14.82,-0.075],[14.95,-0.075],[15.09,-0.079],[15.22,-0.077],[15.35,-0.072],[15.42,-0.063],[15.56,-0.067],[15.69,-0.069],[15.82,-0.072],[15.96,-0.072],[16.09,-0.073],[16.22,-0.075],[16.36,-0.083],[16.43,-0.072],[16.49,-0.043],[16.56,-0.037],[16.69,-0.019],[16.83,-0.016],[16.96,-0.018],[17.09,-0.013],[17.23,-0.025],[17.36,-0.022],[17.5,-0.031],[17.63,-0.013],[17.76,0.004],[17.83,0.009],[17.9,0.004],[18.03,-0.005],[18.17,-0.019],[18.3,-0.028],[18.43,-0.034],[18.57,-0.04],[18.7,-0.041],[18.84,-0.045],[18.97,-0.051],[19.04,-0.054],[19.17,-0.043],[19.3,-0.034],[19.44,-0.025],[19.57,-0.019],[19.71,-0.016],[19.84,-0.022],[20,-0.022]];

// ---------- bottom-left panel ----------
const blBlack = [[0,0],[0.04,0.027],[0.08,-0.043],[0.13,-0.092],[0.19,-0.114],[0.24,-0.179],[0.30,-0.254],[0.34,-0.227],[0.40,-0.141],[0.46,-0.146],[0.50,-0.206],[0.54,-0.173],[0.58,-0.238],[0.62,-0.179],[0.67,-0.19],[0.73,-0.238],[0.78,-0.27],[0.82,-0.281],[0.86,-0.168],[0.91,-0.162],[0.97,-0.227],[1.02,-0.335],[1.08,-0.379],[1.13,-0.416],[1.18,-0.406],[1.24,-0.363],[1.29,-0.346],[1.34,-0.384],[1.40,-0.422],[1.45,-0.457],[1.51,-0.406],[1.56,-0.433],[1.61,-0.40],[1.67,-0.444],[1.72,-0.411],[1.77,-0.444],[1.83,-0.473],[1.88,-0.379],[1.94,-0.363],[2.02,-0.357],[2.07,-0.40],[2.12,-0.26],[2.18,-0.314],[2.23,-0.292],[2.28,-0.325],[2.34,-0.227],[2.39,-0.206],[2.45,-0.146],[2.50,-0.162],[2.54,-0.195],[2.59,-0.173],[2.65,-0.216],[2.70,-0.238],[2.75,-0.26],[2.81,-0.254],[2.88,-0.238],[2.93,-0.292],[2.98,-0.238],[3.04,-0.173],[3.09,-0.146],[3.16,-0.141],[3.21,-0.119],[3.25,-0.043],[3.29,0.041],[3.35,-0.07],[3.40,-0.124],[3.45,-0.13],[3.51,-0.184],[3.55,-0.097],[3.60,0.008],[3.66,-0.097],[3.71,-0.173],[3.76,-0.152],[3.82,-0.219],[3.87,-0.135],[3.92,-0.043],[3.99,0.011],[4.05,-0.097],[4.10,-0.141],[4.17,-0.141],[4.22,-0.162],[4.27,-0.249],[4.34,-0.206],[4.41,-0.216],[4.48,-0.179],[4.53,-0.238],[4.60,-0.195],[4.66,-0.254],[4.73,-0.346],[4.78,-0.325],[4.84,-0.368],[4.91,-0.325],[4.97,-0.363],[5.03,-0.373],[5.09,-0.335],[5.16,-0.368],[5.22,-0.346],[5.27,-0.384],[5.34,-0.368],[5.40,-0.357],[5.47,-0.363],[5.54,-0.368],[5.60,-0.352],[5.67,-0.322],[5.73,-0.357],[5.78,-0.395],[5.85,-0.411],[5.90,-0.444],[5.97,-0.455],[6.03,-0.438],[6.10,-0.455],[6.17,-0.471],[6.24,-0.465],[6.30,-0.476],[6.37,-0.492],[6.44,-0.509],[6.49,-0.53],[6.56,-0.509],[6.63,-0.492],[6.69,-0.514],[6.76,-0.503],[6.83,-0.519],[6.90,-0.536],[6.96,-0.53],[7.03,-0.541],[7.10,-0.557],[7.16,-0.525],[7.23,-0.498],[7.30,-0.476],[7.37,-0.482],[7.43,-0.455],[7.50,-0.465],[7.57,-0.444],[7.63,-0.422],[7.70,-0.411],[7.77,-0.395],[7.84,-0.368],[7.89,-0.346],[7.96,-0.379],[8.01,-0.406],[8.06,-0.379],[8.12,-0.335],[8.19,-0.352],[8.24,-0.319],[8.29,-0.308],[8.35,-0.281],[8.40,-0.248],[8.44,-0.292],[8.49,-0.335],[8.55,-0.357],[8.60,-0.352],[8.66,-0.379],[8.71,-0.395],[8.76,-0.379],[8.82,-0.357],[8.87,-0.346],[8.92,-0.325],[8.98,-0.357],[9.03,-0.368],[9.10,-0.395],[9.17,-0.433],[9.22,-0.416],[9.29,-0.395],[9.35,-0.40],[9.42,-0.384],[9.49,-0.395],[9.56,-0.384],[9.62,-0.395],[9.69,-0.379],[9.76,-0.39],[9.84,-0.349],[9.91,-0.368],[9.97,-0.411],[10.0,-0.411],[10.07,-0.40],[10.13,-0.422],[10.20,-0.40],[10.27,-0.416],[10.33,-0.395],[10.40,-0.422],[10.44,-0.463],[10.50,-0.422],[10.55,-0.433],[10.63,-0.406],[10.68,-0.40],[10.75,-0.373],[10.80,-0.39],[10.87,-0.422],[10.94,-0.438],[11.00,-0.449],[11.07,-0.438],[11.14,-0.455],[11.20,-0.444],[11.27,-0.422],[11.35,-0.387],[11.41,-0.411],[11.46,-0.465],[11.51,-0.487],[11.57,-0.503],[11.62,-0.519],[11.67,-0.509],[11.73,-0.492],[11.78,-0.487],[11.83,-0.482],[11.89,-0.471],[11.94,-0.444],[12.01,-0.433],[12.07,-0.438],[12.14,-0.428],[12.21,-0.422],[12.26,-0.39],[12.32,-0.346],[12.37,-0.357],[12.42,-0.346],[12.48,-0.352],[12.54,-0.357],[12.61,-0.346],[12.66,-0.325],[12.72,-0.314],[12.77,-0.268],[12.82,-0.314],[12.88,-0.303],[12.95,-0.314],[13.01,-0.281],[13.08,-0.33],[13.15,-0.352],[13.21,-0.363],[13.31,-0.384],[13.36,-0.346],[13.41,-0.303],[13.47,-0.308],[13.52,-0.298],[13.57,-0.292],[13.63,-0.303],[13.68,-0.363],[13.73,-0.298],[13.79,-0.276],[13.84,-0.233],[13.90,-0.238],[13.95,-0.23],[14.00,-0.189],[14.06,-0.162],[14.08,-0.147],[14.12,-0.179],[14.16,-0.189],[14.22,-0.184],[14.27,-0.20],[14.33,-0.227],[14.38,-0.27],[14.43,-0.303],[14.48,-0.314],[14.54,-0.33],[14.59,-0.341],[14.65,-0.325],[14.70,-0.303],[14.75,-0.292],[14.81,-0.287],[14.86,-0.314],[14.91,-0.298],[14.97,-0.341],[15.02,-0.308],[15.07,-0.26],[15.13,-0.287],[15.18,-0.281],[15.23,-0.292],[15.29,-0.265],[15.34,-0.287],[15.39,-0.314],[15.45,-0.357],[15.50,-0.363],[15.56,-0.368],[15.61,-0.325],[15.66,-0.335],[15.72,-0.314],[15.77,-0.33],[15.82,-0.308],[15.88,-0.325],[15.93,-0.308],[15.98,-0.319],[16.04,-0.303],[16.09,-0.314],[16.14,-0.298],[16.20,-0.303],[16.25,-0.292],[16.30,-0.287],[16.35,-0.262],[16.39,-0.292],[16.44,-0.363],[16.49,-0.40],[16.55,-0.411],[16.60,-0.422],[16.65,-0.411],[16.71,-0.422],[16.76,-0.455],[16.81,-0.482],[16.87,-0.498],[16.92,-0.487],[16.97,-0.492],[17.03,-0.476],[17.09,-0.487],[17.16,-0.471],[17.23,-0.482],[17.30,-0.455],[17.36,-0.476],[17.43,-0.46],[17.50,-0.471],[17.56,-0.476],[17.63,-0.492],[17.70,-0.503],[17.75,-0.525],[17.80,-0.514],[17.86,-0.533],[17.91,-0.514],[17.97,-0.527],[18.03,-0.514],[18.10,-0.492],[18.17,-0.482],[18.23,-0.465],[18.30,-0.449],[18.37,-0.455],[18.43,-0.433],[18.50,-0.444],[18.57,-0.422],[18.63,-0.406],[18.70,-0.40],[18.77,-0.411],[18.84,-0.40],[18.90,-0.395],[18.97,-0.40],[19.02,-0.368],[19.08,-0.395],[19.13,-0.416],[19.18,-0.428],[19.24,-0.438],[19.29,-0.449],[19.34,-0.465],[19.40,-0.455],[19.45,-0.465],[19.50,-0.482],[19.56,-0.471],[19.61,-0.46],[19.67,-0.471],[19.72,-0.455],[19.77,-0.482],[19.83,-0.487],[19.88,-0.476],[19.93,-0.471],[20.0,-0.463]];

const blRed = [[0,0],[0.05,0.003],[0.11,0],[0.16,-0.005],[0.23,-0.003],[0.3,-0.014],[0.36,-0.011],[0.43,-0.005],[0.5,-0.011],[0.56,-0.003],[0.63,-0.003],[0.7,-0.011],[0.77,-0.016],[0.83,-0.005],[0.9,0.003],[0.97,-0.011],[1.03,-0.027],[1.1,-0.038],[1.17,-0.046],[1.24,-0.043],[1.3,-0.043],[1.37,-0.049],[1.44,-0.051],[1.48,-0.057],[1.53,-0.046],[1.59,-0.049],[1.64,-0.043],[1.69,-0.049],[1.77,-0.051],[1.83,-0.062],[1.88,-0.049],[1.94,-0.038],[1.99,-0.035],[2.04,-0.038],[2.11,-0.032],[2.18,-0.024],[2.24,-0.016],[2.31,-0.003],[2.37,0.011],[2.42,0.014],[2.47,0.011],[2.53,0.015],[2.58,0.011],[2.65,0.012],[2.72,0.008],[2.78,0.005],[2.85,0.008],[2.92,0.005],[2.98,0.016],[3.05,0.022],[3.12,0.024],[3.19,0.027],[3.23,0.032],[3.28,0.038],[3.33,0.035],[3.39,0.027],[3.44,0.032],[3.49,0.038],[3.55,0.032],[3.6,0.038],[3.66,0.032],[3.71,0.03],[3.76,0.035],[3.82,0.041],[3.87,0.043],[3.92,0.046],[3.99,0.049],[4.06,0.046],[4.13,0.041],[4.19,0.035],[4.26,0.032],[4.33,0.027],[4.4,0.03],[4.46,0.032],[4.53,0.027],[4.6,0.03],[4.66,0.024],[4.73,0.016],[4.8,0.008],[4.87,0.003],[4.93,0],[5.0,-0.003],[5.07,-0.004],[5.13,-0.003],[5.2,-0.006],[5.27,-0.004],[5.34,-0.008],[5.4,-0.005],[5.47,-0.006],[5.54,-0.004],[5.6,-0.001],[5.67,0.003],[5.74,-0.005],[5.81,-0.014],[5.87,-0.016],[5.94,-0.021],[6.01,-0.024],[6.08,-0.027],[6.14,-0.028],[6.21,-0.031],[6.28,-0.035],[6.34,-0.038],[6.41,-0.039],[6.48,-0.043],[6.55,-0.042],[6.61,-0.041],[6.68,-0.043],[6.75,-0.042],[6.81,-0.046],[6.88,-0.049],[6.95,-0.051],[7.02,-0.054],[7.08,-0.058],[7.15,-0.054],[7.22,-0.05],[7.28,-0.046],[7.35,-0.043],[7.42,-0.041],[7.49,-0.038],[7.55,-0.034],[7.62,-0.03],[7.69,-0.026],[7.76,-0.022],[7.82,-0.019],[7.89,-0.016],[7.96,-0.015],[8.02,-0.019],[8.09,-0.016],[8.16,-0.014],[8.23,-0.015],[8.29,-0.01],[8.36,-0.006],[8.43,-0.003],[8.49,-0.011],[8.56,-0.016],[8.63,-0.022],[8.7,-0.017],[8.76,-0.019],[8.83,-0.015],[8.9,-0.019],[8.97,-0.016],[9.03,-0.022],[9.1,-0.023],[9.17,-0.024],[9.23,-0.022],[9.3,-0.019],[9.37,-0.021],[9.44,-0.019],[9.5,-0.022],[9.57,-0.019],[9.64,-0.021],[9.7,-0.018],[9.77,-0.019],[9.84,-0.022],[9.91,-0.019],[9.97,-0.022],[10.13,-0.022],[10.27,-0.026],[10.4,-0.027],[10.54,-0.026],[10.67,-0.021],[10.8,-0.024],[10.94,-0.028],[11.07,-0.031],[11.2,-0.031],[11.34,-0.028],[11.47,-0.031],[11.61,-0.043],[11.74,-0.04],[11.87,-0.035],[12.01,-0.031],[12.14,-0.028],[12.28,-0.019],[12.41,-0.017],[12.54,-0.017],[12.68,-0.014],[12.81,-0.012],[12.95,-0.012],[13.08,-0.011],[13.21,-0.012],[13.35,-0.014],[13.48,-0.009],[13.61,-0.009],[13.75,-0.005],[13.88,-0.001],[14.02,0.003],[14.08,0.004],[14.15,0.003],[14.28,0.001],[14.42,-0.003],[14.55,-0.006],[14.69,-0.004],[14.82,-0.003],[14.95,-0.001],[15.09,-0.002],[15.22,-0.002],[15.35,-0.003],[15.49,-0.006],[15.62,-0.004],[15.76,-0.003],[15.89,-0.003],[16.02,-0.003],[16.16,-0.002],[16.29,-0.002],[16.36,-0.003],[16.43,-0.008],[16.49,-0.016],[16.56,-0.022],[16.69,-0.03],[16.83,-0.029],[16.96,-0.028],[17.09,-0.028],[17.23,-0.028],[17.36,-0.028],[17.5,-0.03],[17.63,-0.034],[17.76,-0.038],[17.83,-0.039],[17.9,-0.038],[18.03,-0.037],[18.17,-0.03],[18.3,-0.027],[18.43,-0.022],[18.57,-0.02],[18.7,-0.019],[18.84,-0.019],[18.97,-0.019],[19.1,-0.022],[19.24,-0.023],[19.37,-0.026],[19.5,-0.028],[19.64,-0.03],[19.77,-0.031],[19.91,-0.031],[20,-0.031]];

const blBlue = [[0,0],[0.05,0.003],[0.11,0.001],[0.16,0.001],[0.23,-0.001],[0.3,-0.003],[0.36,-0.002],[0.43,-0.003],[0.5,-0.004],[0.56,-0.004],[0.63,-0.003],[0.7,-0.004],[0.77,-0.005],[0.83,-0.005],[0.9,-0.004],[0.97,0],[1.03,0.004],[1.1,0.009],[1.17,0.01],[1.24,0.006],[1.3,0.009],[1.37,0.011],[1.44,0.013],[1.48,0.014],[1.53,0.009],[1.59,0.011],[1.64,0.006],[1.69,0.01],[1.75,0.006],[1.8,0.012],[1.84,0.014],[1.88,0.008],[1.94,-0.003],[1.99,-0.005],[2.04,-0.008],[2.11,-0.011],[2.18,-0.01],[2.24,-0.014],[2.31,-0.016],[2.38,-0.018],[2.45,-0.019],[2.51,-0.019],[2.58,-0.019],[2.65,-0.019],[2.72,-0.018],[2.78,-0.019],[2.85,-0.018],[2.92,-0.018],[2.98,-0.02],[3.05,-0.022],[3.12,-0.023],[3.19,-0.024],[3.25,-0.026],[3.32,-0.026],[3.36,-0.027],[3.41,-0.023],[3.47,-0.023],[3.52,-0.024],[3.58,-0.023],[3.63,-0.023],[3.68,-0.023],[3.74,-0.022],[3.79,-0.023],[3.84,-0.024],[3.9,-0.024],[3.95,-0.024],[4.01,-0.025],[4.06,-0.023],[4.13,-0.023],[4.19,-0.022],[4.26,-0.02],[4.33,-0.021],[4.4,-0.02],[4.46,-0.022],[4.53,-0.021],[4.6,-0.022],[4.66,-0.019],[4.73,-0.015],[4.8,-0.014],[4.87,-0.014],[4.93,-0.014],[5.0,-0.012],[5.07,-0.013],[5.13,-0.012],[5.2,-0.014],[5.27,-0.012],[5.34,-0.014],[5.4,-0.012],[5.47,-0.014],[5.54,-0.013],[5.6,-0.015],[5.67,-0.018],[5.74,-0.015],[5.81,-0.013],[5.87,-0.011],[5.94,-0.008],[6.01,-0.005],[6.08,-0.003],[6.14,-0.006],[6.21,-0.005],[6.28,-0.003],[6.34,0],[6.41,0.005],[6.48,0.015],[6.55,0.012],[6.61,0.009],[6.68,0.011],[6.75,0.008],[6.81,0.011],[6.88,0.011],[6.95,0.015],[7.02,0.019],[7.08,0.027],[7.12,0.023],[7.18,0.015],[7.23,0.011],[7.28,0.007],[7.34,0.004],[7.39,-0.001],[7.45,-0.003],[7.5,-0.004],[7.55,-0.006],[7.61,-0.008],[7.66,-0.01],[7.72,-0.009],[7.77,-0.01],[7.82,-0.011],[7.88,-0.014],[7.93,-0.012],[7.98,-0.011],[8.04,-0.01],[8.09,-0.009],[8.15,-0.012],[8.2,-0.014],[8.25,-0.016],[8.31,-0.019],[8.36,-0.022],[8.41,-0.027],[8.47,-0.023],[8.52,-0.021],[8.58,-0.018],[8.63,-0.017],[8.7,-0.018],[8.76,-0.016],[8.83,-0.018],[8.9,-0.019],[8.96,-0.021],[9.03,-0.019],[9.1,-0.016],[9.17,-0.014],[9.23,-0.012],[9.3,-0.015],[9.37,-0.016],[9.44,-0.015],[9.5,-0.016],[9.57,-0.016],[9.64,-0.017],[9.7,-0.016],[9.77,-0.017],[9.84,-0.019],[9.91,-0.019],[9.97,-0.016],[10.13,-0.014],[10.27,-0.013],[10.4,-0.011],[10.54,-0.014],[10.67,-0.017],[10.74,-0.021],[10.8,-0.019],[10.94,-0.012],[11.07,-0.01],[11.2,-0.012],[11.34,-0.016],[11.43,-0.005],[11.49,0.001],[11.58,0.006],[11.67,0.002],[11.74,0.003],[11.87,-0.005],[12.01,-0.012],[12.14,-0.015],[12.28,-0.021],[12.41,-0.023],[12.54,-0.024],[12.68,-0.026],[12.74,-0.028],[12.81,-0.027],[12.95,-0.027],[13.08,-0.024],[13.21,-0.023],[13.35,-0.024],[13.48,-0.027],[13.61,-0.024],[13.75,-0.026],[13.88,-0.031],[14.02,-0.034],[14.08,-0.035],[14.15,-0.034],[14.28,-0.031],[14.42,-0.029],[14.55,-0.027],[14.69,-0.027],[14.82,-0.028],[14.95,-0.028],[15.09,-0.03],[15.22,-0.029],[15.35,-0.027],[15.42,-0.024],[15.56,-0.025],[15.69,-0.026],[15.82,-0.027],[15.96,-0.027],[16.09,-0.028],[16.22,-0.028],[16.36,-0.031],[16.43,-0.027],[16.49,-0.017],[16.56,-0.015],[16.69,-0.005],[16.83,-0.005],[16.96,-0.005],[17.09,-0.004],[17.23,-0.008],[17.36,-0.007],[17.5,-0.01],[17.63,-0.004],[17.76,0.004],[17.83,0.006],[17.9,0.004],[18.03,-0.001],[18.17,-0.006],[18.3,-0.011],[18.43,-0.014],[18.57,-0.016],[18.7,-0.017],[18.84,-0.019],[18.97,-0.021],[19.04,-0.022],[19.17,-0.017],[19.3,-0.014],[19.44,-0.01],[19.57,-0.006],[19.71,-0.004],[19.84,-0.006],[20,-0.006]];

// ---------- bottom-right panel ----------
const brBlack = [[0,0],[0.05,0.011],[0.09,-0.027],[0.16,-0.049],[0.23,-0.087],[0.30,-0.143],[0.35,-0.135],[0.40,-0.078],[0.46,-0.087],[0.51,-0.114],[0.55,-0.097],[0.59,-0.13],[0.65,-0.10],[0.70,-0.108],[0.75,-0.124],[0.81,-0.135],[0.85,-0.162],[0.89,-0.092],[0.94,-0.097],[0.99,-0.135],[1.05,-0.20],[1.10,-0.233],[1.16,-0.26],[1.21,-0.244],[1.28,-0.206],[1.33,-0.227],[1.40,-0.254],[1.45,-0.287],[1.51,-0.246],[1.56,-0.265],[1.61,-0.254],[1.67,-0.27],[1.72,-0.26],[1.77,-0.276],[1.83,-0.30],[1.88,-0.233],[1.94,-0.216],[2.02,-0.211],[2.07,-0.244],[2.12,-0.179],[2.18,-0.184],[2.23,-0.173],[2.28,-0.189],[2.34,-0.13],[2.39,-0.124],[2.45,-0.081],[2.50,-0.095],[2.54,-0.119],[2.59,-0.103],[2.65,-0.13],[2.70,-0.141],[2.75,-0.157],[2.81,-0.151],[2.88,-0.146],[2.93,-0.17],[2.98,-0.135],[3.04,-0.097],[3.09,-0.089],[3.16,-0.087],[3.21,-0.076],[3.25,-0.043],[3.31,0.005],[3.35,-0.049],[3.40,-0.076],[3.45,-0.081],[3.51,-0.108],[3.55,-0.06],[3.60,-0.003],[3.66,-0.06],[3.71,-0.097],[3.76,-0.087],[3.82,-0.13],[3.87,-0.092],[3.92,-0.043],[4.01,-0.005],[4.06,-0.054],[4.11,-0.087],[4.17,-0.092],[4.22,-0.097],[4.27,-0.146],[4.33,-0.124],[4.41,-0.119],[4.48,-0.108],[4.53,-0.141],[4.60,-0.114],[4.66,-0.146],[4.73,-0.195],[4.78,-0.189],[4.84,-0.222],[4.91,-0.20],[4.97,-0.222],[5.03,-0.227],[5.09,-0.211],[5.16,-0.227],[5.22,-0.216],[5.27,-0.233],[5.34,-0.227],[5.40,-0.222],[5.47,-0.222],[5.54,-0.227],[5.60,-0.222],[5.67,-0.195],[5.73,-0.222],[5.78,-0.244],[5.85,-0.254],[5.90,-0.276],[5.97,-0.287],[6.03,-0.281],[6.10,-0.292],[6.17,-0.303],[6.24,-0.297],[6.30,-0.308],[6.37,-0.319],[6.44,-0.33],[6.49,-0.354],[6.56,-0.335],[6.63,-0.325],[6.69,-0.335],[6.76,-0.33],[6.83,-0.341],[6.90,-0.352],[6.96,-0.346],[7.03,-0.363],[7.10,-0.379],[7.16,-0.352],[7.23,-0.33],[7.30,-0.308],[7.37,-0.314],[7.43,-0.297],[7.50,-0.297],[7.57,-0.281],[7.63,-0.276],[7.70,-0.265],[7.77,-0.249],[7.84,-0.233],[7.89,-0.214],[7.96,-0.233],[8.01,-0.26],[8.06,-0.244],[8.12,-0.216],[8.19,-0.222],[8.24,-0.20],[8.29,-0.195],[8.35,-0.179],[8.40,-0.143],[8.44,-0.173],[8.49,-0.20],[8.55,-0.222],[8.60,-0.216],[8.66,-0.233],[8.71,-0.244],[8.76,-0.233],[8.82,-0.222],[8.87,-0.216],[8.92,-0.195],[8.98,-0.216],[9.03,-0.227],[9.10,-0.244],[9.17,-0.27],[9.22,-0.26],[9.29,-0.244],[9.35,-0.249],[9.42,-0.233],[9.49,-0.244],[9.56,-0.233],[9.62,-0.244],[9.69,-0.227],[9.76,-0.238],[9.84,-0.211],[9.91,-0.222],[9.97,-0.244],[10.0,-0.249],[10.07,-0.244],[10.13,-0.26],[10.20,-0.244],[10.27,-0.26],[10.33,-0.249],[10.40,-0.265],[10.44,-0.295],[10.50,-0.265],[10.55,-0.276],[10.63,-0.254],[10.68,-0.238],[10.74,-0.227],[10.80,-0.249],[10.87,-0.27],[10.94,-0.281],[11.00,-0.292],[11.07,-0.281],[11.14,-0.292],[11.20,-0.281],[11.27,-0.254],[11.33,-0.238],[11.38,-0.254],[11.43,-0.287],[11.49,-0.308],[11.54,-0.325],[11.59,-0.346],[11.65,-0.335],[11.71,-0.319],[11.78,-0.319],[11.83,-0.314],[11.89,-0.297],[11.94,-0.281],[12.01,-0.27],[12.07,-0.276],[12.14,-0.27],[12.21,-0.254],[12.26,-0.233],[12.32,-0.206],[12.37,-0.211],[12.42,-0.20],[12.48,-0.206],[12.54,-0.216],[12.61,-0.206],[12.66,-0.189],[12.72,-0.184],[12.77,-0.154],[12.82,-0.189],[12.88,-0.178],[12.95,-0.189],[13.01,-0.165],[13.08,-0.20],[13.15,-0.216],[13.21,-0.222],[13.28,-0.233],[13.33,-0.211],[13.39,-0.179],[13.44,-0.184],[13.49,-0.179],[13.55,-0.173],[13.61,-0.179],[13.68,-0.219],[13.73,-0.179],[13.79,-0.157],[13.84,-0.135],[13.90,-0.141],[13.95,-0.135],[14.00,-0.114],[14.06,-0.081],[14.08,-0.087],[14.12,-0.103],[14.16,-0.114],[14.22,-0.108],[14.27,-0.119],[14.33,-0.135],[14.38,-0.157],[14.43,-0.179],[14.48,-0.189],[14.54,-0.195],[14.59,-0.206],[14.65,-0.184],[14.70,-0.168],[14.75,-0.173],[14.81,-0.162],[14.86,-0.184],[14.91,-0.168],[14.97,-0.20],[15.02,-0.173],[15.07,-0.149],[15.13,-0.162],[15.18,-0.157],[15.23,-0.168],[15.29,-0.151],[15.34,-0.168],[15.39,-0.179],[15.45,-0.211],[15.50,-0.216],[15.56,-0.219],[15.61,-0.195],[15.66,-0.20],[15.72,-0.184],[15.77,-0.195],[15.82,-0.179],[15.88,-0.195],[15.93,-0.179],[15.98,-0.189],[16.04,-0.179],[16.09,-0.189],[16.14,-0.173],[16.20,-0.179],[16.25,-0.173],[16.30,-0.168],[16.35,-0.152],[16.39,-0.173],[16.44,-0.222],[16.49,-0.254],[16.55,-0.26],[16.60,-0.27],[16.65,-0.265],[16.71,-0.276],[16.76,-0.297],[16.81,-0.319],[16.87,-0.33],[16.92,-0.319],[16.97,-0.325],[17.03,-0.308],[17.09,-0.319],[17.16,-0.303],[17.23,-0.314],[17.30,-0.287],[17.36,-0.308],[17.43,-0.297],[17.50,-0.308],[17.56,-0.314],[17.63,-0.325],[17.70,-0.335],[17.75,-0.354],[17.80,-0.346],[17.86,-0.357],[17.91,-0.341],[17.97,-0.352],[18.03,-0.341],[18.10,-0.325],[18.17,-0.308],[18.23,-0.297],[18.30,-0.27],[18.37,-0.281],[18.43,-0.265],[18.50,-0.276],[18.57,-0.254],[18.63,-0.246],[18.70,-0.249],[18.77,-0.254],[18.84,-0.249],[18.90,-0.244],[18.97,-0.238],[19.02,-0.222],[19.08,-0.244],[19.13,-0.26],[19.18,-0.265],[19.24,-0.276],[19.29,-0.281],[19.34,-0.292],[19.40,-0.287],[19.45,-0.297],[19.50,-0.308],[19.56,-0.303],[19.61,-0.292],[19.67,-0.303],[19.72,-0.287],[19.77,-0.314],[19.83,-0.316],[19.88,-0.308],[19.93,-0.303],[20.0,-0.297]];

const brRed = [[0,0],[0.11,-0.003],[0.16,-0.004],[0.3,-0.005],[0.36,-0.004],[0.43,-0.004],[0.5,-0.005],[0.56,-0.003],[0.63,-0.003],[0.7,-0.004],[0.77,-0.005],[0.83,-0.003],[0.9,-0.001],[0.97,-0.004],[1.03,-0.008],[1.1,-0.012],[1.17,-0.015],[1.24,-0.016],[1.3,-0.015],[1.37,-0.017],[1.44,-0.018],[1.48,-0.02],[1.53,-0.017],[1.59,-0.018],[1.64,-0.016],[1.69,-0.017],[1.77,-0.019],[1.83,-0.023],[1.88,-0.017],[1.94,-0.014],[1.99,-0.012],[2.04,-0.013],[2.11,-0.011],[2.18,-0.008],[2.24,-0.005],[2.31,-0.003],[2.37,0],[2.42,0.001],[2.47,0],[2.53,0.002],[2.58,0.001],[2.65,0.002],[2.72,0.001],[2.78,0],[2.85,0.001],[2.92,0],[2.98,0.003],[3.05,0.005],[3.12,0.006],[3.19,0.008],[3.23,0.01],[3.28,0.011],[3.33,0.01],[3.39,0.008],[3.44,0.01],[3.49,0.011],[3.55,0.01],[3.6,0.011],[3.66,0.01],[3.71,0.01],[3.76,0.011],[3.82,0.012],[3.87,0.013],[3.92,0.013],[3.99,0.014],[4.06,0.013],[4.13,0.012],[4.19,0.011],[4.26,0.01],[4.33,0.009],[4.4,0.01],[4.46,0.01],[4.53,0.009],[4.6,0.009],[4.66,0.008],[4.73,0.005],[4.8,0.003],[4.87,0.002],[4.93,0.001],[5.0,0],[5.07,-0.001],[5.13,-0.001],[5.2,-0.002],[5.27,-0.001],[5.34,-0.002],[5.4,-0.002],[5.47,-0.002],[5.54,-0.001],[5.6,-0.001],[5.67,0.001],[5.74,-0.002],[5.81,-0.004],[5.87,-0.005],[5.94,-0.006],[6.01,-0.008],[6.08,-0.009],[6.14,-0.009],[6.21,-0.01],[6.28,-0.011],[6.34,-0.012],[6.41,-0.013],[6.48,-0.015],[6.55,-0.015],[6.61,-0.014],[6.68,-0.015],[6.75,-0.015],[6.81,-0.016],[6.88,-0.017],[6.95,-0.018],[7.02,-0.019],[7.08,-0.025],[7.15,-0.022],[7.22,-0.019],[7.28,-0.017],[7.35,-0.016],[7.42,-0.015],[7.49,-0.014],[7.55,-0.012],[7.62,-0.011],[7.69,-0.01],[7.76,-0.009],[7.82,-0.008],[7.89,-0.007],[7.96,-0.006],[8.02,-0.007],[8.09,-0.006],[8.16,-0.005],[8.23,-0.006],[8.29,-0.004],[8.36,-0.004],[8.43,-0.003],[8.49,-0.004],[8.56,-0.006],[8.63,-0.008],[8.7,-0.007],[8.76,-0.007],[8.83,-0.005],[8.9,-0.006],[8.97,-0.006],[9.03,-0.008],[9.1,-0.008],[9.17,-0.009],[9.23,-0.008],[9.3,-0.007],[9.37,-0.008],[9.44,-0.007],[9.5,-0.008],[9.57,-0.007],[9.64,-0.008],[9.7,-0.006],[9.77,-0.007],[9.84,-0.008],[9.91,-0.007],[9.97,-0.009],[10.13,-0.009],[10.27,-0.01],[10.4,-0.01],[10.54,-0.01],[10.67,-0.008],[10.8,-0.008],[10.94,-0.01],[11.07,-0.011],[11.2,-0.011],[11.34,-0.011],[11.47,-0.014],[11.61,-0.017],[11.74,-0.015],[11.87,-0.013],[12.01,-0.012],[12.14,-0.01],[12.28,-0.005],[12.41,-0.005],[12.54,-0.005],[12.68,-0.004],[12.81,-0.004],[12.95,-0.004],[13.08,-0.004],[13.21,-0.005],[13.35,-0.005],[13.48,-0.003],[13.61,-0.002],[13.75,-0.001],[13.88,0],[14.02,0.002],[14.08,0.003],[14.15,0.002],[14.28,0.001],[14.42,-0.001],[14.55,-0.002],[14.69,-0.002],[14.82,-0.001],[14.95,-0.001],[15.09,-0.001],[15.22,-0.001],[15.35,-0.001],[15.49,-0.003],[15.62,-0.002],[15.76,-0.001],[15.89,-0.001],[16.02,-0.001],[16.16,-0.001],[16.29,0],[16.43,-0.003],[16.56,-0.008],[16.69,-0.011],[16.83,-0.01],[16.96,-0.01],[17.09,-0.01],[17.23,-0.01],[17.36,-0.01],[17.5,-0.011],[17.63,-0.012],[17.76,-0.015],[17.83,-0.015],[17.9,-0.015],[18.03,-0.014],[18.17,-0.011],[18.3,-0.01],[18.43,-0.008],[18.57,-0.008],[18.7,-0.007],[18.84,-0.007],[18.97,-0.007],[19.1,-0.008],[19.24,-0.009],[19.37,-0.009],[19.5,-0.01],[19.64,-0.011],[19.77,-0.011],[19.91,-0.011],[20,-0.011]];

const brBlue = [[0,0],[0.5,-0.001],[0.97,0],[1.24,0.001],[1.48,0.002],[1.88,0],[2.04,-0.002],[2.45,-0.004],[3.0,-0.004],[3.36,-0.005],[3.8,-0.004],[4.01,-0.005],[4.66,-0.004],[4.73,-0.003],[5.67,-0.003],[6.34,-0.001],[6.48,0.003],[6.9,0.004],[7.08,0.006],[7.34,0],[7.88,-0.002],[8.41,-0.004],[9.17,-0.003],[9.97,-0.003],[10.74,-0.004],[11.58,-0.001],[12.28,-0.004],[12.74,-0.005],[13.5,-0.005],[14.08,-0.006],[15.35,-0.005],[16.36,-0.005],[16.69,-0.003],[17.5,-0.003],[17.83,0.001],[18.5,-0.002],[19.04,-0.003],[19.6,-0.002],[20,-0.002]];

// ---------- drawing ----------
const fmtY = d => d === 0 ? "0" : d.toFixed(1).replace("-", "\u2212");
const tickDown = {draw(ctx, l) { ctx.moveTo(0, 0); ctx.lineTo(0, -l); }};

function panel(series, box) {
  return Plot.plot({
    width: box.w, height: box.h,
    marginLeft: box.ml, marginRight: box.mr, marginTop: box.mt, marginBottom: box.mb,
    x: {domain: [0, 20], axis: null},
    y: {domain: [-0.7, 0.2], axis: null},
    style: {fontFamily: "'Liberation Serif', 'DejaVu Serif', serif", fontSize: "18px", color: "black", background: "transparent"},
    marks: [
      Plot.ruleX([0], {y1: -0.7, y2: 0.2, stroke: "black", strokeWidth: 1.3}),
      Plot.ruleY([0], {x1: 0, x2: 20, stroke: "black", strokeWidth: 1.3}),
      Plot.axisY({ticks: yMajorTicks, tickSize: 8, tickPadding: 7, tickFormat: fmtY, label: null, fontSize: 18, strokeWidth: 1.2}),
      Plot.axisY({ticks: yMinorTicks, tickSize: 4, tickFormat: () => "", label: null, strokeWidth: 1.2}),
      Plot.vector(xMinorTicks, {x: d => d, y: 0, length: 4, rotate: 180, anchor: "start", shape: tickDown, stroke: "black", strokeWidth: 1.2}),
      Plot.text(xLabelTicks, {x: d => d, y: 0, text: d => String(d), dy: 23, fontSize: 18, fill: "black"}),
      Plot.line(series.red, {x: d => d[0], y: d => d[1], stroke: "#ff0000", strokeWidth: 1.4}),
      Plot.line(series.blue, {x: d => d[0], y: d => d[1], stroke: "#0000ff", strokeWidth: 1.4}),
      Plot.line(series.black, {x: d => d[0], y: d => d[1], stroke: "#000000", strokeWidth: 1.6})
    ]
  });
}

const wrap = document.getElementById("wrap");
const layout = [
  {s: {black: tlBlack, red: tlRed, blue: tlBlue}, left: 0, top: 0, box: {w: 610, h: 590, ml: 58, mr: 56, mt: 21, mb: 15}},
  {s: {black: trBlack, red: trRed, blue: trBlue}, left: 610, top: 0, box: {w: 610, h: 590, ml: 105, mr: 9, mt: 21, mb: 15}},
  {s: {black: blBlack, red: blRed, blue: blBlue}, left: 0, top: 590, box: {w: 610, h: 577, ml: 58, mr: 56, mt: 17, mb: 7}},
  {s: {black: brBlack, red: brRed, blue: brBlue}, left: 610, top: 590, box: {w: 610, h: 577, ml: 105, mr: 9, mt: 17, mb: 7}}
];
for (const p of layout) {
  const svg = panel(p.s, p.box);
  svg.style.position = "absolute";
  svg.style.left = p.left + "px";
  svg.style.top = p.top + "px";
  wrap.appendChild(svg);
}
</script></body></html>
